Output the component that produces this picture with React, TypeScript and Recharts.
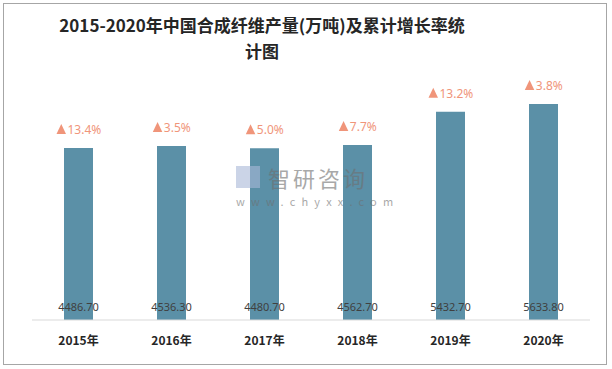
import { BarChart, Bar, XAxis, YAxis, LabelList } from "recharts";

const years = ["2015年", "2016年", "2017年", "2018年", "2019年", "2020年"];
const output = [4486.7, 4536.3, 4480.7, 4562.7, 5432.7, 5633.8];
const growth = ["13.4%", "3.5%", "5.0%", "7.7%", "13.2%", "3.8%"];

const data = years.map((year, i) => ({
  year,
  output: output[i],
  growth: growth[i],
}));

const ValueLabel = (props: any) => {
  const { x, y, width, height, value } = props;
  return (
    <text
      x={x + width / 2}
      y={y + height - 9}
      textAnchor="middle"
      fontSize={11}
      fill="#404040"
      fontFamily="'Noto Sans', sans-serif"
    >
      {Number(value).toFixed(2)}
    </text>
  );
};

const GrowthLabel = (props: any) => {
  const { x, y, width, value } = props;
  const textW = String(value).length * 6.6;
  const total = 11 + textW;
  const left = x + width / 2 - total / 2;
  const base = y - 14;
  return (
    <g>
      <polygon
        points={`${left},${base} ${left + 9.5},${base} ${left + 4.75},${base - 10}`}
        fill="#F0957A"
      />
      <text
        x={left + 11}
        y={base}
        fontSize={12}
        fill="#F0957A"
        fontFamily="'Noto Sans', sans-serif"
      >
        {value}
      </text>
    </g>
  );
};

export default function App() {
  return (
    <div
      style={{
        position: "absolute",
        left: 0,
        top: 0,
        width: 612,
        height: 369,
        background: "#fff",
      }}
    >
      <div
        style={{
          position: "absolute",
          left: 3,
          top: 3,
          width: 602,
          height: 360,
          border: "1px solid #a6a6a6",
        }}
      />
      <div
        style={{
          position: "absolute",
          left: 12,
          width: 500,
          top: 12,
          textAlign: "center",
          fontFamily: "'Noto Sans CJK SC', sans-serif",
          fontWeight: 700,
          fontSize: 17,
          lineHeight: "26px",
          color: "#262626",
        }}
      >
        2015-2020年中国合成纤维产量(万吨)及累计增长率统
        <br />
        计图
      </div>
      <BarChart
        width={612}
        height={369}
        data={data}
        margin={{ top: 90, right: 22, bottom: 19, left: 32 }}
      >
        <XAxis
          dataKey="year"
          axisLine={{ stroke: "#d9d9d9" }}
          tickLine={false}
          tickMargin={10}
          tick={{
            fontSize: 12,
            fontWeight: 700,
            fill: "#262626",
            fontFamily: "'Noto Sans CJK SC', sans-serif",
          }}
        />
        <YAxis hide domain={[0, 6000]} />
        <Bar dataKey="output" fill="#5B90A7" barSize={29} isAnimationActive={false}>
          <LabelList dataKey="output" content={<ValueLabel />} />
          <LabelList dataKey="growth" content={<GrowthLabel />} />
        </Bar>
      </BarChart>
      <div
        style={{
          position: "absolute",
          left: 236,
          top: 164,
          width: 150,
          opacity: 0.6,
          fontFamily: "'Noto Sans CJK SC', sans-serif",
          color: "#6f6f6f",
        }}
      >
        <div style={{ display: "flex", alignItems: "center", height: 26 }}>
          <div
            style={{
              width: 24,
              height: 22,
              background: "#a9b9d8",
              marginRight: 8,
            }}
          />
          <div
            style={{
              fontSize: 22,
              letterSpacing: 3,
              lineHeight: "26px",
              height: 26,
            }}
          >
            智研咨询
          </div>
        </div>
        <div
          style={{
            fontSize: 11,
            letterSpacing: 6.2,
            marginTop: 5,
            lineHeight: "13px",
          }}
        >
          www.chyxx.com
        </div>
      </div>
    </div>
  );
}
